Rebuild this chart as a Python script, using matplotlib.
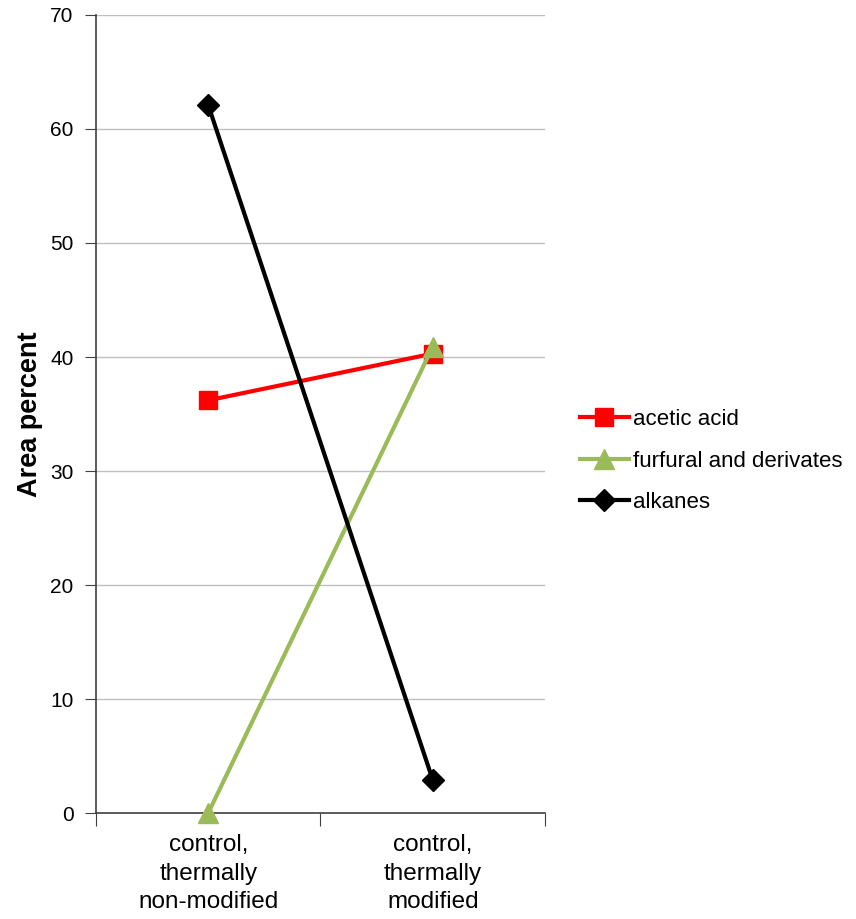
import matplotlib
matplotlib.use("Agg")
import matplotlib.pyplot as plt

plt.rcParams['font.family'] = ['Liberation Sans', 'DejaVu Sans']

categories = ["control,\nthermally\nnon-modified", "control,\nthermally\nmodified"]
acetic_acid = [36.2, 40.3]
furfural = [0.0, 40.9]
alkanes = [62.1, 2.9]
yticks = [0, 10, 20, 30, 40, 50, 60, 70]

fig = plt.figure(figsize=(8.56, 9.19), dpi=100)
ax = fig.add_axes([0.1121, 0.1153, 0.5246, 0.8684])

x = [0.5, 1.5]
ax.plot(x, acetic_acid, color='#ff0000', lw=3, marker='s', ms=13, label='acetic acid',
        zorder=3, clip_on=False)
ax.plot(x, furfural, color='#9bbb59', lw=3, marker='^', ms=14, label='furfural and derivates',
        zorder=4, clip_on=False)
ax.plot(x, alkanes, color='#000000', lw=3, marker='D', ms=11, label='alkanes',
        zorder=5, clip_on=False)

ax.set_xlim(0, 2)
ax.set_ylim(0, 70)
ax.set_yticks(yticks)
ax.set_yticklabels([str(v) for v in yticks], fontsize=15)
ax.yaxis.grid(True, color='#bfbfbf', lw=1)
ax.set_axisbelow(True)

ax.set_xticks([0, 1, 2])
ax.set_xticklabels([])
ax.set_xticks(x, minor=True)
ax.set_xticklabels(categories, minor=True, fontsize=17.5, linespacing=1.4)
ax.tick_params(axis='x', which='minor', length=0, pad=15)
ax.tick_params(axis='x', which='major', length=9, direction='out', color='#404040')
ax.tick_params(axis='y', length=8, direction='out', color='#404040', pad=8)

for s in ['top', 'right']:
    ax.spines[s].set_visible(False)
for s in ['left', 'bottom']:
    ax.spines[s].set_color('#404040')
    ax.spines[s].set_linewidth(1.2)

ax.set_ylabel('Area percent', fontsize=19.5, fontweight='bold', labelpad=5)

ax.legend(loc='center left', bbox_to_anchor=(1.078, 0.441), frameon=False, fontsize=16,
          handlelength=2.2, handletextpad=0.2, labelspacing=0.92, borderaxespad=0,
          borderpad=0)

fig.savefig('out.png', dpi=100)
